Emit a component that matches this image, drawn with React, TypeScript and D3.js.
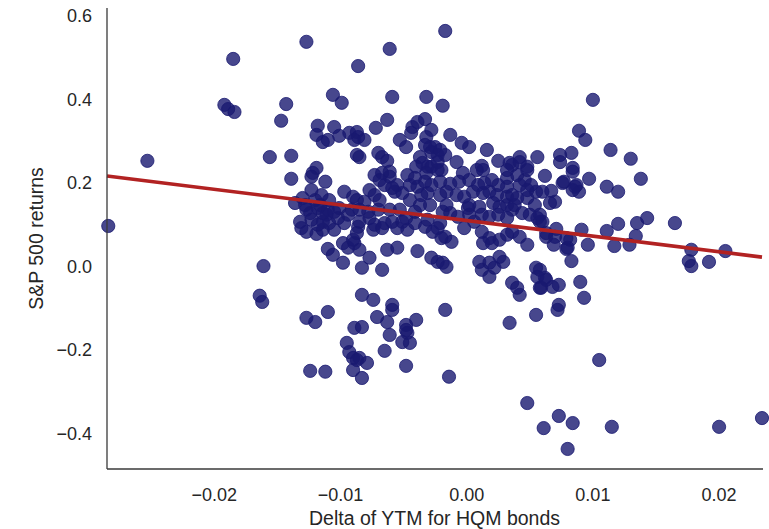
import React from "react";
import * as d3 from "d3";

// Delta of YTM for HQM bonds (x) and S&P 500 returns (y)
const xDelta: number[] = [
  -0.0127,-0.0185,-0.0192,-0.0189,-0.0184,-0.0143,-0.0147,-0.0253,-0.0156,-0.0139,
  -0.0017,-0.0061,-0.0086,-0.0106,-0.0099,-0.0059,-0.0032,-0.0019,0.0100,-0.0063,
  -0.0072,-0.0105,-0.0118,-0.0119,-0.0114,-0.0110,-0.0101,-0.0093,-0.0087,-0.0086,
  -0.0089,-0.0081,-0.0087,-0.0085,-0.0070,-0.0067,-0.0063,-0.0053,-0.0048,-0.0043,
  -0.0039,-0.0033,-0.0044,-0.0028,-0.0032,-0.0029,-0.0025,-0.0023,-0.0017,-0.0037,
  -0.0035,-0.0031,-0.0013,-0.0004,0.0002,-0.0008,0.0016,0.0025,0.0042,0.0034,
  0.0048,0.0056,0.0012,0.0089,0.0094,0.0083,0.0074,0.0074,0.0114,0.0130,
  0.0084,-0.0119,-0.0139,-0.0122,-0.0123,-0.0112,-0.0130,-0.0136,-0.0127,-0.0124,
  -0.0131,-0.0127,-0.0119,-0.0111,-0.0114,-0.0109,-0.0110,-0.0284,-0.0161,-0.0164,
  -0.0162,-0.0127,-0.0120,-0.0110,-0.0124,-0.0112,-0.0071,-0.0063,-0.0059,-0.0089,
  -0.0083,-0.0095,-0.0093,-0.0090,-0.0087,-0.0085,-0.0079,-0.0090,-0.0083,-0.0061,
  -0.0065,-0.0048,-0.0040,-0.0047,-0.0051,-0.0045,-0.0048,-0.0048,-0.0014,-0.0017,
  0.0034,0.0055,0.0048,0.0061,0.0072,0.0105,0.0073,0.0084,
  0.0080,0.0115,0.0200,0.0234,0.0062,0.0084,0.0097,0.0076,0.0086,0.0089,
  0.0111,0.0120,0.0138,0.0067,0.0060,0.0070,0.0066,0.0058,0.0058,0.0071,
  0.0063,0.0070,0.0069,0.0082,0.0079,0.0083,0.0091,0.0096,0.0111,0.0120,
  0.0117,0.0129,0.0134,0.0135,0.0143,0.0165,0.0178,0.0176,0.0178,0.0192,
  0.0205,0.0058,0.0062,0.0058,0.0068,0.0073,0.0090,0.0093,0.0073,0.0013,
  0.0036,0.0042,0.0048,0.0077,0.0087,0.0084,-0.0020,-0.0003,-0.0006,-0.0013,
  -0.0016,-0.0021,0.0020,0.0032,0.0040,0.0046,0.0051,0.0032,0.0025,0.0005,
  0.0013,0.0018,0.0024,0.0032,0.0036,0.0040,-0.0008,-0.0002,0.0001,0.0010,
  0.0048,0.0055,0.0054,0.0056,0.0060,0.0021,0.0026,0.0032,0.0036,0.0032,
  0.0012,0.0018,0.0025,-0.0016,-0.0019,-0.0013,-0.0007,-0.0002,-0.0021,0.0012,
  0.0018,0.0013,0.0020,0.0026,0.0032,0.0036,0.0042,0.0048,0.0080,0.0079,
  0.0063,-0.0017,-0.0012,-0.0019,-0.0016,0.0010,0.0012,0.0018,0.0022,0.0026,
  0.0029,0.0018,0.0055,0.0056,0.0063,0.0059,0.0036,0.0040,0.0042,-0.0033,
  -0.0028,-0.0021,-0.0028,-0.0023,-0.0073,-0.0061,-0.0055,-0.0047,-0.0057,-0.0051,
  -0.0039,-0.0031,-0.0036,-0.0097,-0.0090,-0.0087,-0.0077,-0.0073,-0.0081,-0.0069,
  -0.0118,-0.0114,-0.0110,-0.0105,-0.0101,-0.0102,-0.0097,-0.0094,-0.0114,-0.0105,
  -0.0086,-0.0085,-0.0077,-0.0073,-0.0074,-0.0067,-0.0065,-0.0059,-0.0055,-0.0051,
  -0.0047,-0.0048,-0.0041,-0.0033,-0.0031,-0.0027,-0.0023,-0.0020,-0.0106,-0.0098,
  -0.0094,-0.0089,-0.0085,-0.0098,-0.0083,-0.0077,-0.0067,-0.0063,-0.0055,-0.0039,
  -0.0028,-0.0023,-0.0083,-0.0074,-0.0059,-0.0067,-0.0061,-0.0040,-0.0032,-0.0023,
  0.0008,0.0032,-0.0116,-0.0087,-0.0090,
  -0.0132,-0.0123,-0.0118,-0.0128,-0.0120,-0.0115,-0.0109,-0.0123,-0.0065,-0.0059,
  -0.0069,-0.0045,-0.0041,-0.0033,-0.0028,-0.0037,-0.0029,-0.0045,-0.0053,-0.0061,
  -0.0070,-0.0078,-0.0085,-0.0091,-0.0041,-0.0021,0.0002,0.0009,0.0014,0.0002,
  0.0006,0.0042,0.0048,0.0038,0.0044,0.0050,0.0002
];

const spReturns: number[] = [
  0.539,0.498,0.388,0.378,0.371,0.390,0.350,0.254,0.263,0.266,
  0.565,0.522,0.481,0.412,0.393,0.407,0.407,0.386,0.400,0.352,
  0.333,0.335,0.338,0.316,0.299,0.304,0.314,0.321,0.323,0.311,
  0.304,0.304,0.268,0.263,0.273,0.263,0.254,0.304,0.287,0.335,
  0.347,0.354,0.321,0.328,0.311,0.287,0.287,0.268,0.268,0.263,
  0.249,0.240,0.316,0.297,0.287,0.251,0.280,0.254,0.263,0.249,
  0.240,0.263,0.242,0.326,0.304,0.273,0.268,0.251,0.280,0.259,
  0.237,0.237,0.211,0.225,0.216,0.204,0.165,0.153,0.137,0.129,
  0.093,0.084,0.079,0.125,0.108,0.105,0.043,0.098,0.002,-0.069,
  -0.084,-0.122,-0.132,-0.108,-0.249,-0.251,-0.120,-0.132,-0.103,-0.146,
  -0.144,-0.182,-0.204,-0.218,-0.223,-0.218,-0.230,-0.247,-0.266,-0.163,
  -0.201,-0.139,-0.127,-0.158,-0.180,-0.182,-0.151,-0.237,-0.263,-0.103,
  -0.134,-0.115,-0.326,-0.386,-0.103,-0.223,-0.357,-0.374,
  -0.436,-0.383,-0.383,-0.362,0.218,0.228,0.211,0.201,0.192,0.180,
  0.192,0.180,0.211,0.182,0.180,0.156,0.153,0.125,0.108,0.091,
  0.072,0.072,0.053,0.065,0.043,0.014,0.089,0.053,0.086,0.103,
  0.050,0.053,0.074,0.105,0.117,0.105,0.041,0.014,0.002,0.012,
  0.038,-0.007,-0.026,-0.050,-0.048,-0.043,-0.036,-0.074,-0.091,0.232,
  0.244,0.251,0.232,0.204,0.196,0.184,0.232,0.225,0.204,0.199,
  0.180,0.204,0.208,0.213,0.220,0.208,0.196,0.192,0.196,0.180,
  0.177,0.180,0.172,0.168,0.172,0.165,0.172,0.168,0.141,0.144,
  0.165,0.180,0.148,0.117,0.108,0.153,0.144,0.148,0.137,0.117,
  0.125,0.120,0.125,0.148,0.132,0.129,0.120,0.093,0.105,0.084,
  0.069,0.057,0.057,0.065,0.077,0.084,0.072,0.053,0.046,0.069,
  0.081,0.072,0.060,0.010,0.000,0.012,-0.007,0.010,-0.002,0.024,
  0.012,-0.024,-0.002,-0.024,-0.031,-0.050,-0.038,-0.050,-0.067,0.292,
  0.275,0.280,0.240,0.251,0.220,0.216,0.196,0.220,0.180,0.177,
  0.192,0.177,0.172,0.180,0.168,0.160,0.184,0.172,0.156,0.160,
  0.141,0.129,0.137,0.132,0.141,0.117,0.105,0.125,0.089,0.089,
  0.096,0.108,0.117,0.101,0.089,0.093,0.105,0.108,0.093,0.108,
  0.089,0.117,0.105,0.096,0.113,0.084,0.093,0.069,0.029,0.057,
  0.046,0.057,0.041,0.010,-0.002,0.022,-0.007,0.041,0.046,0.038,
  0.022,0.012,-0.067,-0.079,-0.091,0.225,0.228,0.240,0.225,0.232,
  0.232,0.232,0.148,0.081,0.065,
  0.108,0.113,0.101,0.148,0.160,0.172,0.160,0.184,0.196,0.189,
  0.208,0.196,0.213,0.204,0.196,0.148,0.148,0.160,0.137,0.137,
  0.137,0.132,0.137,0.137,0.132,0.172,0.208,0.196,0.201,0.125,
  0.108,0.196,0.184,0.148,0.129,0.125,0.148
];

// Fitted regression line
const regIntercept = 0.111;
const regSlope = -3.74;
const xDomain: [number, number] = [-0.0285, 0.0234];
const yDomain: [number, number] = [-0.484, 0.62];

const xTicks = [-0.02, -0.01, 0.0, 0.01, 0.02];
const yTicks = [-0.4, -0.2, 0.0, 0.2, 0.4, 0.6];

const xLabel = "Delta of YTM for HQM bonds";
const yLabel = "S&P 500 returns";

const W = 769;
const H = 529;
const L = 107, R = 762, T = 8, B = 469;
const FONT = "'Liberation Sans', Arial, Helvetica, sans-serif";
const TEXT = "#262626";

export default function App() {
  const x = d3.scaleLinear().domain(xDomain).range([L, R]);
  const y = d3.scaleLinear().domain(yDomain).range([B, T]);
  const minus = (s: string) => s.replace("-", "\u2212");
  const fx = d3.format(".2f");
  const fy = d3.format(".1f");

  const regLine = d3
    .line<number>()
    .x((d) => x(d))
    .y((d) => y(regIntercept + regSlope * d));

  const n = Math.min(xDelta.length, spReturns.length);
  const pts = d3.range(n).map((i) => [xDelta[i], spReturns[i]] as [number, number]);

  return (
    <svg
      width={W}
      height={H}
      style={{ position: "absolute", left: 0, top: 0, background: "#fff" }}
      fontFamily={FONT}
    >
      <rect width={W} height={H} fill="#fff" />
      {pts.map((p, i) => (
        <circle
          key={i}
          cx={x(p[0])}
          cy={y(p[1])}
          r={6.6}
          fill="#191970"
          fillOpacity={0.8}
          stroke="#191970"
          strokeOpacity={0.8}
          strokeWidth={1}
        />
      ))}
      <path d={regLine(xDomain) || ""} stroke="#b22222" strokeWidth={3.6} fill="none" />
      <line x1={L} x2={L} y1={T} y2={B} stroke="#3a3a3a" strokeWidth={1.3} />
      <line x1={L} x2={R + 1} y1={B} y2={B} stroke="#3a3a3a" strokeWidth={1.3} />
      {yTicks.map((t) => (
        <text
          key={"y" + t}
          x={92}
          y={y(t)}
          textAnchor="end"
          dominantBaseline="central"
          fontSize={18}
          fill={TEXT}
        >
          {minus(fy(t))}
        </text>
      ))}
      {xTicks.map((t) => (
        <text
          key={"x" + t}
          x={x(t)}
          y={501}
          textAnchor="middle"
          fontSize={18}
          fill={TEXT}
        >
          {minus(fx(t))}
        </text>
      ))}
      <text x={(L + R) / 2} y={525} textAnchor="middle" fontSize={19.5} fill={TEXT}>
        {xLabel}
      </text>
      <text
        transform={`translate(36,${(T + B) / 2}) rotate(-90)`}
        textAnchor="middle"
        dominantBaseline="central"
        fontSize={19.5}
        fill={TEXT}
      >
        {yLabel}
      </text>
    </svg>
  );
}
